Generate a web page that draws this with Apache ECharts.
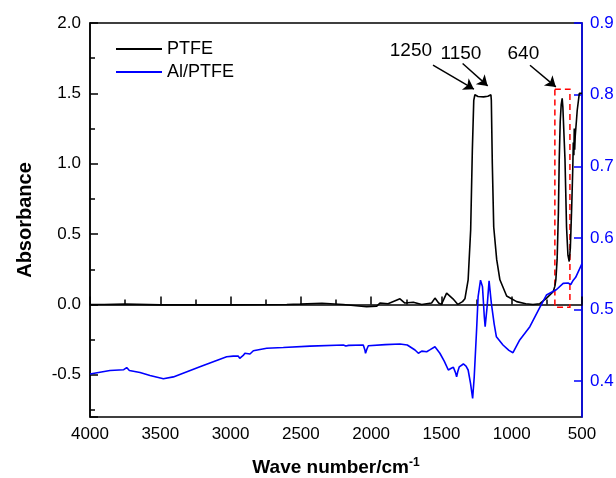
<!DOCTYPE html>
<html>
<head>
<meta charset="utf-8">
<script src="https://cdn.jsdelivr.net/npm/echarts@6/dist/echarts.min.js"></script>
<style>
  html, body { margin: 0; padding: 0; background: #fff; }
  #chart { width: 616px; height: 478px; }
</style>
</head>
<body>
<div id="chart"></div>
<script>
// PTFE spectrum (left axis, absorbance)
var ptfeWave = [4000, 3900, 3750, 3500, 3000, 2600, 2506, 2350, 2200, 2032, 1960, 1937, 1880, 1795, 1760, 1700, 1640, 1570, 1546, 1520, 1500, 1463, 1418, 1383, 1350, 1333, 1310, 1292, 1280, 1270, 1262, 1240, 1200, 1170, 1148, 1145, 1138, 1128, 1107, 1084, 1036, 965, 900, 849, 800, 752, 705, 693, 686, 677, 668, 662, 655, 648, 641, 636, 628, 621, 610, 600, 591, 583, 574, 566, 562, 558, 555, 552, 548, 540, 534, 519, 500];
var ptfeAbs = [0.0, 0.0, 0.002, -0.003, -0.003, 0.0, 0.002, 0.008, 0.0, -0.017, -0.012, 0.01, 0.005, 0.04, 0.01, 0.015, 0.0, 0.01, 0.045, 0.01, 0.0, 0.08, 0.04, 0.0, 0.02, 0.04, 0.175, 0.53, 1.1, 1.45, 1.49, 1.478, 1.475, 1.48, 1.49, 1.45, 1.0, 0.55, 0.32, 0.175, 0.06, 0.02, 0.005, 0.0, 0.005, 0.045, 0.09, 0.13, 0.175, 0.32, 0.65, 1.03, 1.3, 1.42, 1.464, 1.4, 1.2, 1.03, 0.55, 0.35, 0.305, 0.4, 0.67, 0.95, 1.15, 1.06, 1.25, 1.1, 1.2, 1.3, 1.38, 1.5, 1.5];

// Al/PTFE spectrum (right axis)
var alWave = [4000, 3858, 3760, 3739, 3720, 3644, 3573, 3478, 3407, 3218, 3028, 2981, 2945, 2935, 2928, 2910, 2898, 2862, 2838, 2743, 2625, 2435, 2198, 2180, 2174, 2160, 2056, 2045, 2040, 2030, 2020, 1900, 1795, 1743, 1688, 1664, 1640, 1605, 1580, 1546, 1511, 1480, 1451, 1430, 1415, 1400, 1392, 1383, 1373, 1344, 1325, 1310, 1293, 1278, 1267, 1250, 1239, 1222, 1208, 1195, 1189, 1175, 1161, 1145, 1125, 1109, 1062, 1020, 991, 943, 871, 800, 753, 681, 634, 599, 580, 562, 545, 527, 500];
var alAbs = [0.41, 0.415, 0.416, 0.419, 0.415, 0.412, 0.408, 0.4035, 0.406, 0.42, 0.434, 0.435, 0.435, 0.432, 0.4296, 0.436, 0.439, 0.438, 0.4425, 0.446, 0.447, 0.449, 0.4505, 0.449, 0.447, 0.45, 0.4505, 0.444, 0.439, 0.445, 0.4495, 0.451, 0.452, 0.4505, 0.4435, 0.439, 0.442, 0.4411, 0.444, 0.448, 0.439, 0.428, 0.4156, 0.418, 0.4194, 0.412, 0.406, 0.414, 0.42, 0.424, 0.421, 0.4156, 0.397, 0.376, 0.405, 0.471, 0.518, 0.541, 0.532, 0.49, 0.476, 0.504, 0.54, 0.509, 0.48, 0.462, 0.4505, 0.443, 0.4397, 0.4575, 0.476, 0.503, 0.5202, 0.528, 0.5365, 0.537, 0.535, 0.541, 0.545, 0.5527, 0.564];

// peak annotations (text position, arrow start, arrow end) in data units
var peakNames = ['1250', '1150', '640'];
var peakTextAt = [[1717, 1.80], [1361, 1.78], [917, 1.78]];
var arrowFrom = [[1560, 1.70], [1349, 1.712], [870, 1.70]];
var arrowTo = [[1269, 1.53], [1171, 1.553], [686, 1.546]];
// dashed box around the 640 band
var boxCorners = [[693, 1.53], [586, -0.02]];

var font = 'Liberation Sans, Arial, sans-serif';

function pairs(xs, ys) {
  return xs.map(function (x, i) { return [x, ys[i]]; });
}

var chart = echarts.init(document.getElementById('chart'), null, {renderer: 'canvas'});

var option = {
  animation: false,
  textStyle: {fontFamily: font},
  grid: {
    left: 90, right: 34, top: 23, bottom: 61,
    outerBoundsMode: 'none',
    containLabel: false,
    show: true, borderColor: '#000', borderWidth: 1.5, backgroundColor: 'transparent'
  },
  legend: {
    orient: 'vertical',
    left: 111, top: 35,
    icon: 'rect',
    itemWidth: 46, itemHeight: 2, itemGap: 5,
    textStyle: {fontSize: 18, color: '#000', fontFamily: font},
    data: ['PTFE', 'Al/PTFE']
  },
  xAxis: {
    type: 'value',
    inverse: true,
    min: 500, max: 4000, interval: 500,
    name: 'Wave number/cm{sup|-1}',
    nameLocation: 'middle',
    nameGap: 40,
    nameTextStyle: {
      fontSize: 19, fontWeight: 'bold', color: '#000', fontFamily: font,
      rich: {sup: {fontSize: 12, fontWeight: 'bold', verticalAlign: 'top', padding: [0, 0, 10, 0], color: '#000'}}
    },
    axisLine: {lineStyle: {color: '#000', width: 1.5}},
    axisTick: {inside: true, length: 8, lineStyle: {color: '#000', width: 1.5}},
    minorTick: {show: true, splitNumber: 2, length: 5, lineStyle: {color: '#000', width: 1.5}},
    axisLabel: {
      fontSize: 17, color: '#000', margin: 9, fontFamily: font,
      formatter: function (v) { return String(v); }
    },
    splitLine: {show: false}
  },
  yAxis: [{
    type: 'value',
    position: 'left',
    min: -0.8, max: 2.0, splitNumber: 5,
    name: 'Absorbance',
    nameLocation: 'middle',
    nameGap: 55,
    nameTextStyle: {fontSize: 20, fontWeight: 'bold', color: '#000', fontFamily: font},
    axisLine: {show: true, lineStyle: {color: '#000', width: 1.5}},
    axisTick: {show: true, inside: true, length: 8, lineStyle: {color: '#000', width: 1.5}},
    minorTick: {show: true, splitNumber: 2, length: 5, lineStyle: {color: '#000', width: 1.5}},
    axisLabel: {
      fontSize: 17, color: '#000', margin: 9, fontFamily: font, showMinLabel: false,
      formatter: function (v) { return v.toFixed(1); }
    },
    splitLine: {show: false}
  }, {
    type: 'value',
    position: 'right',
    min: 0.35, max: 0.9, splitNumber: 5,
    axisLine: {show: true, lineStyle: {color: '#0000ff', width: 1.5}},
    axisTick: {show: true, inside: true, length: 8, lineStyle: {color: '#0000ff', width: 1.5}},
    axisLabel: {
      fontSize: 17, color: '#0000ff', margin: 8, fontFamily: font, showMinLabel: false,
      formatter: function (v) { return v.toFixed(1); }
    },
    splitLine: {show: false}
  }],
  series: [{
    name: 'PTFE',
    type: 'line',
    yAxisIndex: 0,
    symbol: 'none',
    color: '#000',
    lineStyle: {color: '#000', width: 1.6},
    data: pairs(ptfeWave, ptfeAbs),
    markLine: {
      silent: true,
      symbol: ['none', 'arrow'],
      symbolSize: 10,
      lineStyle: {color: '#000', width: 1.5, type: 'solid'},
      label: {show: false},
      data: arrowFrom.map(function (p, i) {
        return [{coord: p}, {coord: arrowTo[i]}];
      })
    },
    markPoint: {
      silent: true,
      symbol: 'circle',
      symbolSize: 0,
      itemStyle: {color: 'transparent'},
      label: {show: true, position: 'inside', fontSize: 19, color: '#000', fontFamily: font,
        formatter: function (p) { return p.name; }},
      data: peakNames.map(function (n, i) {
        return {name: n, coord: peakTextAt[i]};
      })
    },
    markArea: {
      silent: true,
      itemStyle: {color: 'transparent', borderColor: '#ff0000', borderWidth: 1.5, borderType: [6, 4]},
      data: [[{coord: boxCorners[0]}, {coord: boxCorners[1]}]]
    }
  }, {
    name: 'Al/PTFE',
    type: 'line',
    yAxisIndex: 1,
    symbol: 'none',
    color: '#0000ff',
    lineStyle: {color: '#0000ff', width: 1.6},
    data: pairs(alWave, alAbs)
  }]
};

chart.setOption(option);
</script>
</body>
</html>
